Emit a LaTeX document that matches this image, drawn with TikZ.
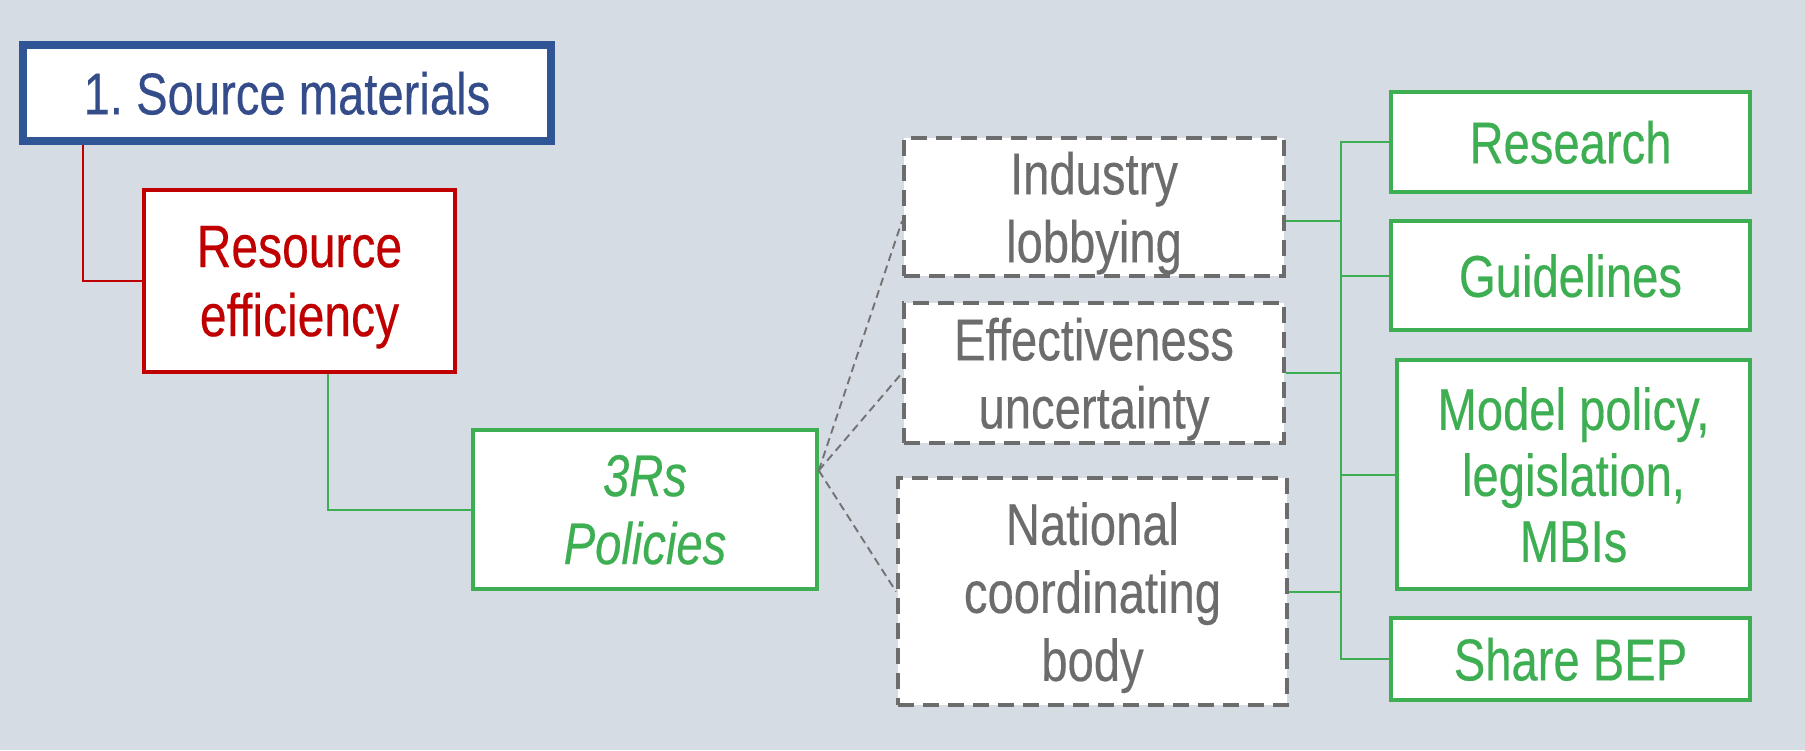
\documentclass[tikz,border=0pt]{standalone}
\usepackage{fontspec}
\setmainfont{Liberation Sans}[FakeStretch=0.80, FakeBold=0.3]
\usetikzlibrary{calc}
\frenchspacing
\definecolor{bgc}{RGB}{214,220,228}
\definecolor{blueC}{RGB}{47,85,151}
\definecolor{blueT}{RGB}{52,76,138}
\definecolor{redC}{RGB}{192,0,0}
\definecolor{greenC}{RGB}{62,174,82}
\definecolor{grayT}{RGB}{108,108,108}
\definecolor{grayD}{RGB}{115,115,115}
\tikzset{
  box/.style={draw, fill=white, inner sep=0pt, align=center, text depth=0pt,
    font=\fontsize{59}{68}\selectfont},
  bluebox/.style={box, draw=blueC, line width=8pt, text=blueT},
  redbox/.style={box, draw=redC, line width=3.5pt, text=redC},
  greenbox/.style={box, draw=greenC, line width=3.5pt, text=greenC},
  graybox/.style={box, draw=grayT, line width=4pt, text=grayT,
    dash pattern=on 16pt off 9pt},
  redline/.style={draw=redC, line width=2.5pt},
  greenline/.style={draw=greenC, line width=2pt},
  dashline/.style={draw=grayD, line width=1.9pt, dash pattern=on 8pt off 5pt},
}
\begin{document}
\begin{tikzpicture}[x=1pt, y=-1pt]
\fill[bgc] (0,0) rectangle (1805,750);
\useasboundingbox (0,0) rectangle (1805,750);

\node[bluebox, minimum width=528pt, minimum height=96pt] (src) at (287,93) {1. Source materials};
\node[redbox, minimum width=311pt, minimum height=182pt, font=\fontsize{60}{69}\selectfont] (res) at (299.5,281) {Resource\\efficiency};
\node[greenbox, minimum width=344pt, minimum height=159pt] (r3) at (645,509.5) {\itshape 3Rs\\\itshape Policies};

\node[graybox, minimum width=380pt, minimum height=138pt] (ind) at (1094,207) {Industry\\lobbying};
\node[graybox, minimum width=380pt, minimum height=140pt] (eff) at (1094,373) {Effectiveness\\uncertainty};
\node[graybox, minimum width=389pt, minimum height=227pt] (nat) at (1092.5,591.5) {National\\coordinating\\body};

\node[greenbox, minimum width=359pt, minimum height=100pt] (rsch) at (1570.5,142) {Research};
\node[greenbox, minimum width=359pt, minimum height=109pt] (gui) at (1570.5,275.5) {Guidelines};
\node[greenbox, minimum width=353pt, minimum height=229pt, font=\fontsize{59}{66}\selectfont] (mod) at (1573.5,474.5) {Model policy,\\legislation,\\MBIs};
\node[greenbox, minimum width=359pt, minimum height=82pt] (bep) at (1570.5,659) {Share BEP};

% left connectors
\draw[redline] ($(src.south west)+(64,0)$) |- (res.west);
\draw[greenline] ([xshift=28.5pt]res.south) |- (r3.west);

% dashed connectors
\coordinate (r3o) at ($(r3.north east)!0.26!(r3.south east)$);
\draw[dashline] (r3o) -- ($(ind.north west)!0.6!(ind.south west)$);
\draw[dashline] (r3o) -- (eff.west);
\draw[dashline] (r3o) -- (nat.west);

% bus
\coordinate (bus) at (1341,0);
\draw[greenline] (rsch.west) -| (rsch.west -| bus) -- (bep.west -| bus) -- (bep.west);
\draw[greenline] (gui.west) -- (gui.west -| bus);
\draw[greenline] (mod.west) -- (mod.west -| bus);
\coordinate (indR) at ($(ind.north east)!0.6!(ind.south east)$);
\draw[greenline] (indR) -- (indR -| bus);
\draw[greenline] (eff.east) -- (eff.east -| bus);
\draw[greenline] (nat.east) -- (nat.east -| bus);
\end{tikzpicture}
\end{document}
